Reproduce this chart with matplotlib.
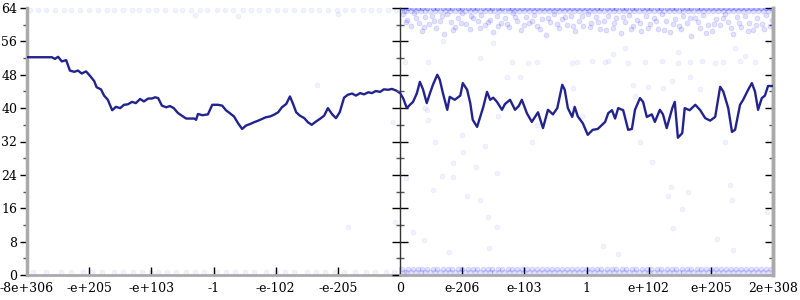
import numpy as np
import matplotlib.pyplot as plt

plt.rcParams["font.family"] = "DejaVu Serif"

# x positions are in tick steps: -6 .. 0 is the negative half, 0 .. 6 the positive half
neg_labels = ["-8e+306", "-e+205", "-e+103", "-1", "-e-102", "-e-205", "0"]
pos_labels = ["e-206", "e-103", "1", "e+102", "e+205", "2e+308"]
y_major = [0, 8, 16, 24, 32, 40, 48, 56, 64]
y_minor = [4, 12, 20, 28, 36, 44, 52, 60]

# rolling line, negative half
neg_x = [-6.00, -5.60, -5.55, -5.50, -5.44, -5.37, -5.31, -5.24, -5.18, -5.12, -5.05, -4.99,
         -4.92, -4.88, -4.81, -4.76, -4.70, -4.63, -4.57, -4.50, -4.44, -4.38, -4.31, -4.25,
         -4.18, -4.12, -4.05, -3.99, -3.94, -3.89, -3.83, -3.76, -3.70, -3.64, -3.57, -3.44,
         -3.31, -3.28, -3.25, -3.18, -3.09, -3.02, -2.93, -2.86, -2.80, -2.73, -2.67, -2.61,
         -2.54, -2.48, -2.41, -2.35, -2.28, -2.22, -2.16, -2.09, -2.03, -1.96, -1.90, -1.83,
         -1.77, -1.72, -1.67, -1.61, -1.54, -1.48, -1.42, -1.35, -1.29, -1.22, -1.16, -1.09,
         -1.03, -0.97, -0.90, -0.84, -0.77, -0.71, -0.64, -0.58, -0.51, -0.45, -0.39, -0.32,
         -0.26, -0.19, -0.13, -0.06, 0.00]
neg_y = [52.2, 52.2, 51.8, 52.3, 51.2, 51.5, 49.0, 48.7, 49.0, 48.3, 48.8, 47.8,
         46.5, 45.0, 44.5, 43.0, 42.0, 39.5, 40.3, 40.0, 40.8, 40.9, 41.5, 41.2,
         42.2, 41.6, 42.3, 42.3, 42.6, 42.4, 40.6, 40.2, 40.5, 40.0, 38.8, 37.5,
         37.5, 37.2, 38.6, 38.3, 38.5, 40.8, 40.8, 40.6, 39.5, 38.7, 38.0, 36.5,
         35.0, 35.8, 36.2, 36.6, 37.0, 37.4, 37.8, 38.0, 38.4, 39.0, 40.2, 41.0,
         42.8, 41.0, 39.0, 38.2, 37.6, 36.6, 36.0, 36.8, 37.4, 38.2, 40.0, 38.5,
         37.6, 39.0, 42.5, 43.2, 43.5, 43.0, 43.6, 43.3, 43.8, 43.6, 44.1, 43.9,
         44.5, 44.4, 44.6, 44.2, 43.6]

# rolling line, positive half
pos_x = [0.00, 0.05, 0.11, 0.16, 0.21, 0.27, 0.32, 0.37, 0.43, 0.48, 0.53, 0.60,
         0.64, 0.69, 0.76, 0.80, 0.88, 0.97, 1.01, 1.08, 1.13, 1.17, 1.24, 1.29,
         1.34, 1.40, 1.45, 1.50, 1.56, 1.64, 1.69, 1.77, 1.85, 1.91, 1.96, 2.04,
         2.12, 2.22, 2.30, 2.38, 2.46, 2.53, 2.61, 2.65, 2.70, 2.77, 2.81, 2.86,
         2.94, 3.02, 3.10, 3.18, 3.30, 3.35, 3.41, 3.46, 3.51, 3.59, 3.67, 3.73,
         3.78, 3.86, 3.91, 3.97, 4.05, 4.10, 4.18, 4.23, 4.29, 4.38, 4.42, 4.47,
         4.54, 4.58, 4.66, 4.75, 4.83, 4.91, 4.99, 5.07, 5.15, 5.20, 5.28, 5.34,
         5.39, 5.47, 5.52, 5.60, 5.66, 5.71, 5.76, 5.82, 5.87, 5.92, 6.00]
pos_y = [43.6, 42.4, 40.0, 40.8, 41.5, 43.5, 46.3, 44.5, 41.2, 43.5, 45.6, 48.0,
         46.8, 43.6, 39.6, 42.7, 42.0, 43.0, 46.0, 44.4, 41.2, 37.2, 35.5, 37.9,
         40.3, 43.9, 42.0, 42.5, 41.5, 39.6, 41.0, 42.0, 39.6, 40.5, 42.0, 38.8,
         36.7, 39.0, 35.2, 39.6, 38.5, 40.0, 45.6, 44.4, 40.0, 37.9, 40.3, 38.0,
         36.4, 33.6, 34.8, 35.0, 36.7, 38.8, 39.5, 37.5, 40.0, 39.5, 34.8, 35.0,
         39.6, 42.4, 41.5, 37.9, 38.5, 36.7, 39.6, 38.5, 35.2, 40.0, 41.5, 32.9,
         34.0, 40.0, 39.5, 40.8, 39.5, 37.6, 37.0, 37.9, 45.1, 44.0, 40.0, 34.3,
         34.8, 40.8, 42.0, 44.4, 46.0, 44.0, 39.6, 42.4, 43.0, 45.3, 45.3]

# individual samples: rows along the top and bottom, plus scattered ones
top_row_y = 63.6
left_top_x = [-5.95, -5.82, -5.7, -5.55, -5.41, -5.3, -5.14, -5.0, -4.86, -4.72, -4.6,
              -4.45, -4.31, -4.2, -4.05, -3.92, -3.78, -3.62, -3.5, -3.36, -3.22, -3.1,
              -2.95, -2.81, -2.68, -2.53, -2.4, -2.27, -2.12, -1.98, -1.85, -1.7, -1.56,
              -1.43, -1.3, -1.16, -1.02, -0.88, -0.75, -0.6, -0.47, -0.33, -0.2, -0.07]
bottom_row_y = 0.7
left_bottom_x = [-5.9, -5.7, -5.45, -5.3, -5.1, -4.95, -4.8, -4.6, -4.45, -4.3, -4.15,
                 -4.0, -3.9, -3.75, -3.6, -3.45, -3.3, -3.15, -2.95, -2.8, -2.65, -2.5,
                 -2.35, -2.15, -2.0, -1.85, -1.7, -1.5, -1.35, -1.2, -1.05, -0.9, -0.72,
                 -0.55, -0.4, -0.22, -0.1]
left_other = [(-1.34, 45.5), (-0.84, 11.5), (-0.08, 12.7), (-0.11, 36.7),
              (-3.3, 62.3), (-2.6, 62.0), (-1.0, 62.5)]

right_row_a = [0.04, 0.13, 0.21, 0.29, 0.36, 0.44, 0.53, 0.6, 0.69, 0.77, 0.84, 0.93, 1.0,
               1.09, 1.17, 1.24, 1.33, 1.41, 1.48, 1.57, 1.64, 1.73, 1.8, 1.89, 1.97, 2.04,
               2.13, 2.2, 2.29, 2.37, 2.44, 2.53, 2.61, 2.68, 2.77, 2.84, 2.93, 3.0, 3.09,
               3.17, 3.24, 3.33, 3.41, 3.48, 3.57, 3.64, 3.73, 3.8, 3.89, 3.97, 4.04, 4.13,
               4.2, 4.29, 4.37, 4.44, 4.53, 4.61, 4.68, 4.77, 4.84, 4.93, 5.0, 5.09, 5.17,
               5.24, 5.33, 5.41, 5.48, 5.57, 5.64, 5.73, 5.8, 5.89, 5.96]
right_row_b = [0.07, 0.1, 0.17, 0.26, 0.33, 0.41, 0.48, 0.56, 0.64, 0.72, 0.8, 0.88,
               0.96, 1.04, 1.12, 1.2, 1.28, 1.36, 1.44, 1.52, 1.6, 1.68, 1.76, 1.84,
               1.92, 2.0, 2.08, 2.16, 2.24, 2.32, 2.4, 2.48, 2.56, 2.64, 2.72, 2.8,
               2.88, 2.96, 3.04, 3.12, 3.2, 3.28, 3.36, 3.44, 3.52, 3.6, 3.68, 3.76,
               3.84, 3.92, 4.0, 4.08, 4.16, 4.24, 4.32, 4.4, 4.48, 4.56, 4.64, 4.72,
               4.8, 4.88, 4.96, 5.04, 5.12, 5.2, 5.28, 5.36, 5.44, 5.52, 5.6, 5.68,
               5.76, 5.84, 5.92]
right_top_a_y, right_top_b_y = 64.0, 63.4
right_bottom_a_y, right_bottom_b_y = 0.6, 1.4

right_band = [(0.05, 62.5), (0.12, 61.2), (0.18, 59.8), (0.22, 62.8), (0.3, 60.5), (0.35, 58.6),
              (0.41, 61.8), (0.47, 60.1), (0.52, 62.2), (0.58, 59.2), (0.64, 61.0), (0.7, 57.8),
              (0.75, 62.6), (0.82, 60.6), (0.88, 59.5), (0.93, 61.5), (1.0, 62.9), (1.06, 60.2),
              (1.12, 58.9), (1.18, 61.7), (1.25, 60.8), (1.31, 62.4), (1.37, 59.9), (1.44, 61.2),
              (1.5, 58.3), (1.56, 62.0), (1.62, 60.4), (1.69, 61.6), (1.75, 59.4), (1.81, 62.7),
              (1.88, 60.9), (1.95, 58.7), (2.02, 61.9), (2.08, 60.3), (2.15, 62.3), (2.21, 59.6),
              (2.28, 61.4), (2.35, 57.5), (2.41, 60.7), (2.48, 62.5), (2.55, 59.1), (2.61, 61.3),
              (2.68, 60.0), (2.75, 62.1), (2.82, 58.4), (2.88, 61.0), (2.95, 59.8), (3.02, 62.6),
              (3.08, 60.5), (3.15, 61.8), (3.22, 58.9), (3.28, 60.9), (3.35, 62.2), (3.42, 59.3),
              (3.48, 61.5), (3.55, 57.9), (3.62, 60.6), (3.68, 62.4), (3.75, 59.7), (3.82, 61.2),
              (3.88, 58.5), (3.95, 62.0), (4.02, 60.2), (4.08, 61.7), (4.15, 59.0), (4.22, 62.5),
              (4.28, 60.8), (4.35, 58.2), (4.42, 61.4), (4.48, 59.6), (4.55, 62.1), (4.62, 60.4),
              (4.68, 57.4), (4.75, 61.6), (4.82, 59.2), (4.88, 62.3), (4.95, 60.0), (5.02, 58.6),
              (5.08, 61.3), (5.15, 59.9), (5.22, 62.6), (5.28, 60.7), (5.35, 57.7), (5.42, 61.9),
              (5.48, 59.4), (5.55, 62.0), (5.62, 60.5), (5.68, 58.8), (5.75, 61.5), (5.82, 60.1),
              (5.88, 62.4), (5.95, 59.6),
              (0.09, 60.7), (0.26, 61.6), (0.39, 59.4), (0.55, 60.9), (0.68, 62.0), (0.85, 58.8),
              (0.98, 60.4), (1.14, 62.1), (1.29, 59.2), (1.41, 60.6), (1.58, 59.6), (1.72, 60.2),
              (1.85, 61.8), (1.99, 59.9), (2.12, 60.8), (2.25, 58.9), (2.38, 61.7), (2.52, 60.2),
              (2.66, 61.9), (2.79, 59.7), (2.92, 62.2), (3.05, 59.4), (3.19, 60.7), (3.32, 58.7),
              (3.45, 60.4), (3.59, 61.9), (3.72, 58.9), (3.86, 60.5), (3.99, 59.1), (4.12, 60.9),
              (4.25, 58.8), (4.39, 60.1), (4.52, 58.9), (4.66, 61.7), (4.79, 60.6), (4.92, 58.1),
              (5.05, 60.2), (5.19, 61.6), (5.32, 59.3), (5.45, 60.4), (5.59, 58.4), (5.72, 60.0),
              (5.86, 58.9), (5.98, 61.2)]
right_other = [(0.08, 51.0), (0.45, 51.0), (1.29, 52.0), (0.69, 56.0), (1.50, 55.6), (0.40, 40.0),
               (0.56, 32.0), (1.00, 33.6), (1.37, 31.0), (1.58, 38.0), (3.30, 51.0), (3.35, 51.2),
               (3.67, 50.8), (3.94, 51.0), (4.21, 51.2), (4.47, 50.8), (4.66, 51.0), (4.86, 51.2),
               (5.07, 50.8), (5.20, 51.0), (5.47, 51.2), (5.71, 51.0), (3.75, 45.5), (3.99, 45.0),
               (4.38, 46.5), (4.66, 47.5), (4.83, 44.5), (4.23, 44.8), (3.86, 32.0), (5.23, 32.0),
               (3.62, 54.5), (3.43, 53.0), (4.47, 53.5), (5.39, 54.5), (5.55, 52.5), (2.06, 50.8),
               (2.20, 51.0), (2.77, 50.8), (2.85, 51.0), (3.09, 51.2), (1.93, 47.5), (2.78, 44.8),
               (3.78, 43.0), (2.93, 38.0), (2.20, 36.0), (2.12, 32.0), (1.80, 51.0), (1.72, 47.5),
               (0.43, 39.6), (0.45, 37.2), (1.01, 29.5), (0.85, 26.8), (1.22, 26.0), (1.56, 24.4),
               (0.68, 23.7), (0.86, 23.5), (0.10, 23.3), (0.53, 20.4), (1.08, 19.0), (1.29, 18.0),
               (0.21, 10.3), (0.39, 8.4), (0.79, 5.5), (1.43, 6.5), (1.56, 11.5), (1.42, 14.0),
               (4.05, 27.0), (4.36, 21.0), (4.31, 19.0), (4.63, 20.0), (4.54, 15.8), (4.39, 11.3),
               (5.31, 21.6), (5.34, 18.0), (5.10, 8.6), (5.36, 6.0), (5.90, 15.0), (3.27, 7.0),
               (3.51, 5.0)]

line_color = "#23238f"
grey = "#aaaaaa"
dot = dict(s=13, color="blue", alpha=0.05, linewidths=0.5, zorder=2)
dense = dict(s=13, color="blue", alpha=0.12, linewidths=0.5, zorder=2)

fig = plt.figure(figsize=(8, 3), dpi=100)
axl = fig.add_axes([27 / 800, 25 / 300, 373 / 800, 267 / 300])
axr = fig.add_axes([400 / 800, 25 / 300, 373 / 800, 267 / 300])

# samples
axl.scatter(left_top_x, [top_row_y] * len(left_top_x), **dot)
axl.scatter(left_bottom_x, [bottom_row_y] * len(left_bottom_x), **dot)
lo = np.array(left_other)
axl.scatter(lo[:, 0], lo[:, 1], **dot)

axr.scatter(right_row_a, [right_top_a_y] * len(right_row_a), **dense)
axr.scatter(right_row_a, [right_top_a_y] * len(right_row_a), **dense)
axr.scatter(right_row_b, [right_top_b_y] * len(right_row_b), **dense)
axr.scatter(right_row_b, [right_bottom_a_y] * len(right_row_b), **dense)
axr.scatter(right_row_a, [right_bottom_b_y] * len(right_row_a), **dense)
rb = np.array(right_band)
axr.scatter(rb[:, 0], rb[:, 1], **dense)
ro = np.array(right_other)
axr.scatter(ro[:, 0], ro[:, 1], **dot)

# rolling line
axl.plot(neg_x, neg_y, color=line_color, lw=1.7, zorder=3)
axr.plot(pos_x, pos_y, color=line_color, lw=1.7, zorder=3)

axl.set_xlim(-6, 0)
axr.set_xlim(0, 6)
for ax in (axl, axr):
    ax.set_ylim(0, 64)
    ax.spines["top"].set_visible(False)
    ax.spines["bottom"].set_color(grey)
    ax.spines["bottom"].set_linewidth(2)
    ax.tick_params(axis="x", direction="in", length=6, width=1, color="black",
                   labelsize=9, pad=5)

axl.set_xticks(range(-6, 1))
axl.set_xticklabels(neg_labels)
axr.set_xticks(range(1, 7))
axr.set_xticklabels(pos_labels)

# left y axis
axl.spines["right"].set_visible(False)
axl.spines["left"].set_color(grey)
axl.spines["left"].set_linewidth(2.5)
axl.set_yticks(y_major)
axl.set_yticks(y_minor, minor=True)
axl.tick_params(axis="y", which="major", direction="out", length=5, width=1,
                color="black", labelsize=9, pad=2)
axl.tick_params(axis="y", which="minor", direction="out", length=3, width=1, color="#555555")

# centre line at zero
axr.spines["left"].set_color("#333333")
axr.spines["left"].set_linewidth(1)
axr.spines["right"].set_color(grey)
axr.spines["right"].set_linewidth(2.5)
axr.set_yticks(y_major)
axr.set_yticks(y_minor, minor=True)
axr.tick_params(axis="y", which="major", direction="inout", length=11, width=1,
                color="black", labelleft=False)
axr.tick_params(axis="y", which="minor", direction="inout", length=6, width=1, color="#555555")

# right edge ticks
sec = axr.secondary_yaxis("right")
sec.set_yticks(y_major)
sec.set_yticks(y_minor, minor=True)
sec.tick_params(axis="y", which="major", direction="in", length=6, width=1,
                color="black", labelright=False)
sec.tick_params(axis="y", which="minor", direction="in", length=3, width=1, color="#555555")
sec.spines["right"].set_color(grey)
sec.spines["right"].set_linewidth(2.5)

fig.savefig("out.png", dpi=100)
